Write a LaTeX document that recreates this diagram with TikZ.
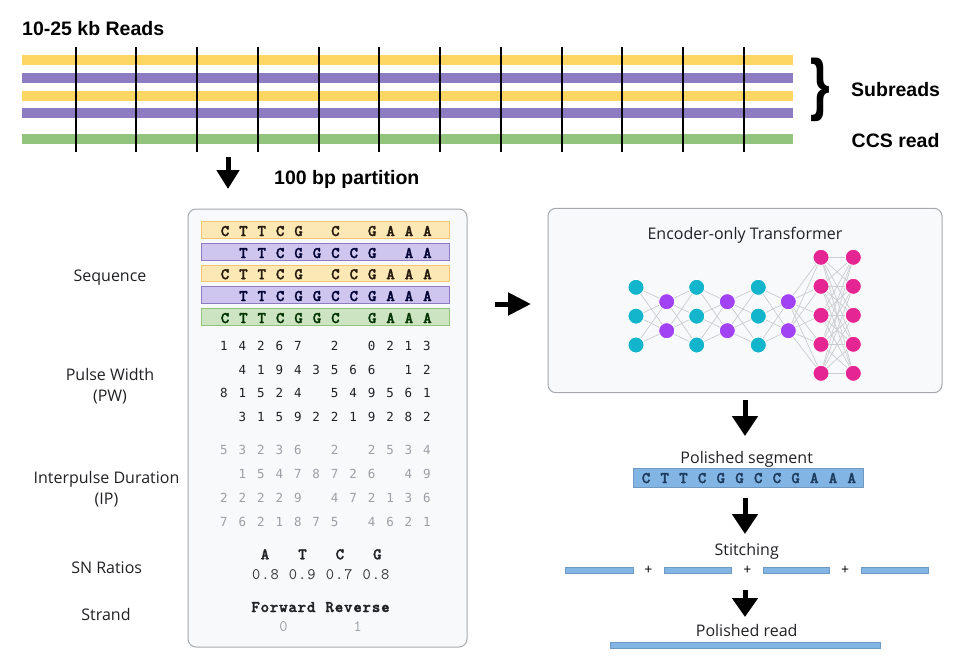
\documentclass[tikz,border=0pt]{standalone}
\usepackage{graphicx}
\usepackage{fontspec}
\setmainfont{Open Sans}
\newfontfamily\hvfont{Liberation Sans}
\newfontfamily\digfont{DejaVu Sans Mono}
\newfontfamily\seqbold{lmmonolt10-bold.otf}[FakeBold=1.7]
\usetikzlibrary{arrows.meta}
\pgfdeclarelayer{bg}
\pgfdeclarelayer{edgelayer}
\pgfsetlayers{bg,edgelayer,main}
\definecolor{rdyel}{HTML}{FDD663}
\definecolor{rdpur}{HTML}{8E7CC3}
\definecolor{rdgrn}{HTML}{93C47D}
\definecolor{yelL}{HTML}{FCE8B4}
\definecolor{yelD}{HTML}{F3C66E}
\definecolor{purL}{HTML}{CEC6EE}
\definecolor{purD}{HTML}{8E7CC3}
\definecolor{grnL}{HTML}{CDE4C3}
\definecolor{grnD}{HTML}{93C47D}
\definecolor{panelfill}{HTML}{F8F9FA}
\definecolor{paneldraw}{HTML}{A5A8AC}
\definecolor{nncyan}{HTML}{12B5CB}
\definecolor{nnpur}{HTML}{A142F4}
\definecolor{nnpink}{HTML}{E52592}
\definecolor{nnedge}{HTML}{C9CCD0}
\definecolor{segblue}{HTML}{82B4E4}
\definecolor{segdark}{HTML}{1C3B5E}
\definecolor{txtdark}{HTML}{202124}
\definecolor{digray}{HTML}{9AA0A6}
% #1 name prefix, #2 x0, #3 pitch, #4 baseline y, #5 style, #6 list ('-' = blank)
\newcommand\rowchars[6]{%
  \foreach \c [count=\i from 0] in {#6} {%
    \if\c-\else\node[#5] (#1\i) at ({#2+#3*\i},#4) {\c};\fi}}
\begin{document}
\begin{tikzpicture}[x=1pt,y=-1pt,
  boldlbl/.style={font=\hvfont\bfseries\fontsize{19.5}{22}\selectfont, text=black, anchor=base west, inner sep=0pt},
  lbl/.style={font=\fontsize{16}{19}\selectfont, text=txtdark, anchor=base, inner sep=0pt},
  seqch/.style={font=\seqbold\fontsize{16.2}{17}\selectfont, anchor=base, inner sep=0pt},
  monoch/.style={font=\ttfamily\fontsize{16}{17}\selectfont, anchor=base, inner sep=0pt},
  dig/.style={font=\digfont\fontsize{12.5}{14}\selectfont, anchor=base, inner sep=0pt},
  seqbar/.style={rectangle, minimum width=247.3pt, minimum height=16.5pt, inner sep=0pt, line width=0.8pt},
  panel/.style={rectangle, draw=paneldraw, fill=panelfill, rounded corners=8pt, line width=1pt, inner sep=0pt},
  bigarrow/.style={line width=5pt, -{Triangle[length=20pt,width=25pt]}},
  neuron/.style={circle, minimum size=16pt, inner sep=0pt, fill=#1, draw=white, line width=0.8pt},
  nnline/.style={draw=nnedge, line width=0.7pt},
  bluebar/.style={rectangle, fill=segblue, draw=segblue!85!black, line width=0.4pt, inner sep=0pt, minimum height=6pt}
]
\useasboundingbox (0,0) rectangle (958,664);

% ---------- top reads ----------
\node[boldlbl] (readslbl) at (22,35) {10-25 kb Reads};
\fill[rdyel] (22,55) rectangle (793,65);
\fill[rdpur] (22,73) rectangle (793,83);
\fill[rdyel] (22,90.5) rectangle (793,100.5);
\fill[rdpur] (22,108) rectangle (793,118);
\fill[rdgrn] (22,134) rectangle (793,144);
\foreach \k in {0,...,11}
  \draw[line width=2pt] ({75.7+60.75*\k},47) -- ({75.7+60.75*\k},152);
\node[font=\hvfont\bfseries\fontsize{44}{44}\selectfont, inner sep=0pt] (brace) at (820,89.5) {\scalebox{1.15}[1.55]{\}}};
\node[boldlbl] (sublbl) at (851,96.7) {Subreads};
\node[boldlbl] (ccslbl) at (851.5,147) {CCS read};

\coordinate (pa1) at (228,157);
\coordinate (pa2) at (228,189);
\draw[line width=5pt, -{Triangle[length=19pt,width=22pt]}] (pa1) -- (pa2);
\node[boldlbl] (partlbl) at (274,184) {100 bp partition};

% ---------- panels ----------
\begin{pgfonlayer}{bg}
\node[panel, minimum width=279pt, minimum height=438pt] (featbox) at (327.5,428) {};
\node[panel, minimum width=394pt, minimum height=184.4pt] (nnbox) at (745,300.5) {};
\end{pgfonlayer}

\node[seqbar, fill=yelL, draw=yelD] (sq1) at (325.3,230) {};
\node[seqbar, fill=purL, draw=purD] (sq2) at (325.3,252) {};
\node[seqbar, fill=yelL, draw=yelD] (sq3) at (325.3,273.2) {};
\node[seqbar, fill=purL, draw=purD] (sq4) at (325.3,295) {};
\node[seqbar, fill=grnL, draw=grnD] (sq5) at (325.3,317) {};

\rowchars{sa}{225}{18.4}{236}{seqch, text=black!80!brown}{C,T,T,C,G,-,C,-,G,A,A,A}
\rowchars{sb}{225}{18.4}{258}{seqch, text=black!80!blue}{-,T,T,C,G,G,C,C,G,-,A,A}
\rowchars{sc}{225}{18.4}{279.2}{seqch, text=black!80!brown}{C,T,T,C,G,-,C,C,G,A,A,A}
\rowchars{sd}{225}{18.4}{301}{seqch, text=black!80!blue}{-,T,T,C,G,G,C,C,G,A,A,A}
\rowchars{se}{225}{18.4}{323}{seqch, text=black!80!green}{C,T,T,C,G,G,C,-,G,A,A,A}

\rowchars{pa}{224}{18.45}{350.7}{dig, text=txtdark}{1,4,2,6,7,-,2,-,0,2,1,3}
\rowchars{pb}{224}{18.45}{374.3}{dig, text=txtdark}{-,4,1,9,4,3,5,6,6,-,1,2}
\rowchars{pc}{224}{18.45}{397.9}{dig, text=txtdark}{8,1,5,2,4,-,5,4,9,5,6,1}
\rowchars{pd}{224}{18.45}{421.5}{dig, text=txtdark}{-,3,1,5,9,2,2,1,9,2,8,2}

\rowchars{ia}{224}{18.45}{454.5}{dig, text=digray}{5,3,2,3,6,-,2,-,2,5,3,4}
\rowchars{ib}{224}{18.45}{478.3}{dig, text=digray}{-,1,5,4,7,8,7,2,6,-,4,9}
\rowchars{ic}{224}{18.45}{502.3}{dig, text=digray}{2,2,2,2,9,-,4,7,2,1,3,6}
\rowchars{id}{224}{18.45}{526}{dig, text=digray}{7,6,2,1,8,7,5,-,4,6,2,1}

\rowchars{sn}{265}{37.45}{559.3}{seqch, text=txtdark}{A,T,C,G}
\rowchars{sv}{256.2}{9.22}{579}{monoch, text=black!80}{0,.,8,-,0,.,9,-,0,.,7,-,0,.,8}
\rowchars{fr}{255.6}{9.27}{612}{seqch, text=txtdark}{F,o,r,w,a,r,d,-,R,e,v,e,r,s,e}
\node[monoch, text=digray] (strand0) at (283.4,631) {0};
\node[monoch, text=digray] (strand1) at (357.8,631) {1};

% ---------- left labels ----------
\node[lbl] (seqlbl) at (110,281.7) {Sequence};
\node[lbl] (pwlbl1) at (110,380.7) {Pulse Width};
\node[lbl] (pwlbl2) at (110,401.7) {(PW)};
\node[lbl] (iplbl1) at (106.5,483.3) {Interpulse Duration};
\node[lbl] (iplbl2) at (106.5,504) {(IP)};
\node[lbl] (snlbl) at (106.7,573.3) {SN Ratios};
\node[lbl] (strlbl) at (106,620) {Strand};

% ---------- middle arrow ----------
\coordinate (ma1) at (495,304);
\coordinate (ma2) at (531,304);
\draw[line width=5pt, -{Triangle[length=23pt,width=22pt]}] (ma1) -- (ma2);

% ---------- transformer ----------
\node[lbl] (nntitle) at (745,239) {Encoder-only Transformer};
\foreach \l/\x in {1/636,3/696.7,5/758.3}
  \foreach \j in {1,2,3}
    \node[neuron=nncyan] (L\l-\j) at (\x,{287.3+28.85*(\j-1)}) {};
\foreach \l/\x in {2/666.7,4/727.3,6/788.3}
  \foreach \j in {1,2}
    \node[neuron=nnpur] (L\l-\j) at (\x,{301.7+29*(\j-1)}) {};
\foreach \l/\x in {7/821,8/853.3}
  \foreach \j in {1,...,5}
    \node[neuron=nnpink] (L\l-\j) at (\x,{257.3+29*(\j-1)}) {};
\begin{pgfonlayer}{edgelayer}
\foreach \a/\na/\b/\nb in {1/3/2/2,2/2/3/3,3/3/4/2,4/2/5/3,5/3/6/2,6/2/7/5,7/5/8/5}
  \foreach \i in {1,...,\na}
    \foreach \j in {1,...,\nb}
      \draw[nnline] (L\a-\i.center) -- (L\b-\j.center);
\end{pgfonlayer}

% ---------- output pipeline ----------
\coordinate (oa1) at (745,400);
\coordinate (oa2) at (745,436);
\draw[bigarrow] (oa1) -- (oa2);
\node[lbl] (seglbl) at (746.7,463.3) {Polished segment};
\node[rectangle, fill=segblue, draw=segblue!85!black, line width=0.4pt, inner sep=0pt,
      minimum width=229.4pt, minimum height=19pt] (segbar) at (748,477.8) {};
\rowchars{pg}{646}{18.7}{483}{seqch, text=segdark}{C,T,T,C,G,G,C,C,G,A,A,A}

\coordinate (ob1) at (745,498);
\coordinate (ob2) at (745,534);
\draw[bigarrow] (ob1) -- (ob2);
\node[lbl] (stitchlbl) at (746.7,555.7) {Stitching};
\node[bluebar, minimum width=67.7pt] (st1) at (598.85,570) {};
\node[bluebar, minimum width=67pt] (st2) at (697.5,570) {};
\node[bluebar, minimum width=66.6pt] (st3) at (796,570) {};
\node[bluebar, minimum width=67.6pt] (st4) at (894.5,570) {};
\node[font=\fontsize{14}{16}\selectfont, inner sep=0pt] (pl1) at (648.3,570.5) {+};
\node[font=\fontsize{14}{16}\selectfont, inner sep=0pt] (pl2) at (747.3,570.5) {+};
\node[font=\fontsize{14}{16}\selectfont, inner sep=0pt] (pl3) at (845,570.5) {+};

\coordinate (oc1) at (745,590);
\coordinate (oc2) at (745,617);
\draw[line width=5pt, -{Triangle[length=19pt,width=25pt]}] (oc1) -- (oc2);
\node[lbl] (readlbl) at (746.7,636) {Polished read};
\node[bluebar, minimum width=270pt] (finalbar) at (745,645) {};
\end{tikzpicture}
\end{document}
